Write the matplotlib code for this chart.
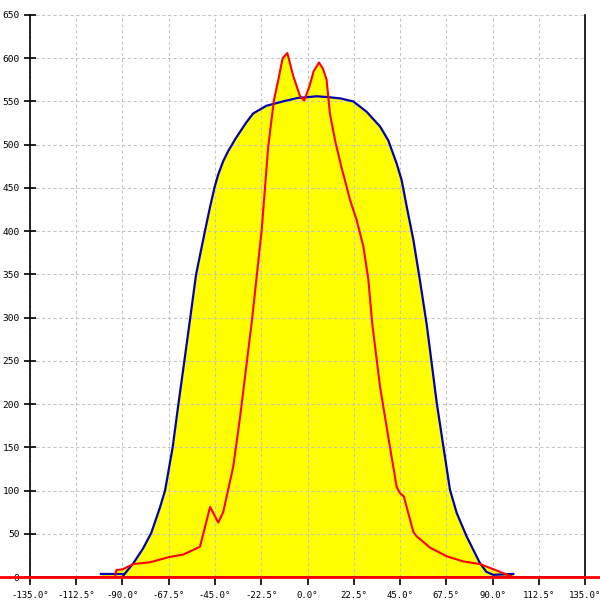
"""Recreate the yellow-filled angular distribution chart."""

import matplotlib

matplotlib.use("Agg")
import matplotlib.pyplot as plt

# blue envelope curve (angle in degrees, value)
blue_deg = [-100.5, -90.0, -89.5, -84.7, -80.0, -76.0, -71.7, -69.3, -65.6, -62.8,
            -59.9, -57.2, -54.2, -49.9, -47.5, -45.3, -43.5, -41.0, -38.5, -35.0,
            -30.0, -26.5, -20.0, -12.0, -5.0, 0.0, 4.5, 10.0, 15.8, 22.3,
            28.8, 35.3, 39.3, 43.4, 45.8, 48.3, 51.5, 54.7, 58.0, 62.9,
            66.1, 69.3, 72.6, 77.4, 83.9, 87.0, 90.4, 100.1]
blue_val = [3.5, 3.5, 2, 16, 33, 51, 81, 100, 150, 200,
            250, 297, 350, 400, 427, 450, 465, 481, 493, 507,
            525, 536, 545, 550, 554, 555, 556, 555, 553.6, 550,
            538, 521, 505, 478, 459, 428, 390, 343, 292, 201,
            151, 101, 74, 47, 16, 6, 2.5, 3.5]

# red measured curve
red_deg = [-100.5, -93.6, -93.0, -89.8, -84.7, -76.6, -67.5, -60.4, -52.3, -50.7,
           -47.4, -43.4, -41.0, -36.1, -32.8, -29.6, -27.1, -22.3, -19.1, -16.3,
           -14.2, -12.1, -9.8, -6.9, -3.6, -1.6, 1.0, 3.0, 5.6, 7.5,
           9.3, 10.9, 13.4, 16.6, 18.2, 20.7, 23.9, 27.2, 29.6, 31.5,
           35.3, 39.3, 43.4, 45.0, 46.9, 51.5, 53.1, 59.6, 67.7, 75.8,
           83.9, 90.4, 93.6, 100.1]
red_val = [0, 0, 8, 9, 15, 17, 23, 26, 35, 50,
           81, 63, 75, 128, 185, 247, 295, 401, 498, 552,
           575, 600, 606, 579, 556, 551, 568, 585, 595, 588,
           575, 536, 505, 473, 459, 436, 413, 382, 344, 293,
           220, 162, 104, 97, 93, 52, 47, 34, 24, 18,
           15, 9, 6, 0]

x_ticks = [-135.0 + 22.5 * i for i in range(13)]
y_ticks = list(range(0, 651, 50))

fig = plt.figure(figsize=(6, 6), dpi=100)
ax = fig.add_axes([0.05, 0.03833, 0.925, 0.93667])

ax.fill_between(blue_deg, 0, blue_val, color="#ffff00", linewidth=0, zorder=1)
ax.fill_between(red_deg, 0, red_val, color="#ffff00", linewidth=0, zorder=1)
ax.plot(blue_deg, blue_val, color="#0000b4", linewidth=1.6, zorder=3)
ax.plot(red_deg, red_val, color="#ff0000", linewidth=1.5, zorder=4)
ax.axhline(0, xmin=-30 / 555, xmax=1 + 15 / 555, color="#ff0000",
           linewidth=2, clip_on=False, zorder=10)

ax.set_xlim(-135, 135)
ax.set_ylim(0, 650)
ax.set_xticks(x_ticks)
ax.set_xticklabels([f"{t:.1f}°" for t in x_ticks])
ax.set_yticks(y_ticks)
ax.set_yticklabels([str(t) for t in y_ticks])

ax.grid(True, color="#c4c4c4", linestyle=(0, (3, 2.5)), linewidth=0.75, zorder=1.5)
ax.spines["top"].set_visible(False)
for side in ("left", "right", "bottom"):
    ax.spines[side].set_color("black")
    ax.spines[side].set_linewidth(1.2)

ax.tick_params(axis="y", direction="inout", length=9, width=1.2, pad=3,
               labelsize=6.8, labelfontfamily="DejaVu Sans Mono")
ax.tick_params(axis="x", direction="out", length=6, width=1.2, pad=4,
               labelsize=6.5, labelfontfamily="DejaVu Sans Mono")

fig.savefig("out.png", dpi=100)
